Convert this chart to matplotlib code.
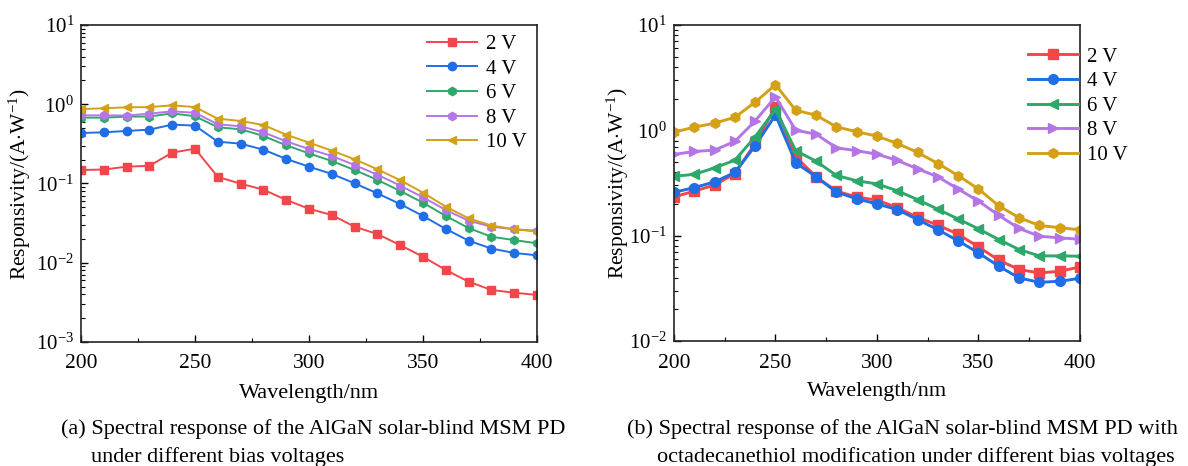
#!/usr/bin/env python3
"""Spectral response of AlGaN solar-blind MSM PD, with/without octadecanethiol."""

import matplotlib

matplotlib.use("Agg")
import matplotlib.pyplot as plt  # noqa: E402
from matplotlib.ticker import LogLocator, MultipleLocator, NullFormatter  # noqa: E402

plt.rcParams["font.family"] = ["Liberation Serif", "DejaVu Serif"]
plt.rcParams["mathtext.fontset"] = "custom"
plt.rcParams["mathtext.rm"] = "Liberation Serif"
plt.rcParams["mathtext.it"] = "Liberation Serif:italic"

wavelength = [200, 210, 220, 230, 240, 250, 260, 270, 280, 290, 300,
              310, 320, 330, 340, 350, 360, 370, 380, 390, 400]
labels = ["2 V", "4 V", "6 V", "8 V", "10 V"]

# (a) bare device
a_2v = [0.148, 0.150, 0.163, 0.167, 0.245, 0.275, 0.121, 0.0995, 0.0836, 0.062, 0.048,
        0.040, 0.0285, 0.023, 0.0167, 0.0119, 0.0081, 0.00577, 0.00453, 0.00419, 0.00392]
a_4v = [0.434, 0.442, 0.460, 0.478, 0.553, 0.537, 0.337, 0.318, 0.267, 0.204, 0.163,
        0.132, 0.1005, 0.075, 0.055, 0.0389, 0.0267, 0.019, 0.0151, 0.0133, 0.0124]
a_6v = [0.677, 0.677, 0.697, 0.700, 0.767, 0.705, 0.512, 0.483, 0.398, 0.303, 0.240,
        0.192, 0.148, 0.111, 0.0804, 0.0573, 0.0389, 0.0274, 0.0213, 0.0193, 0.0176]
a_8v = [0.724, 0.724, 0.720, 0.760, 0.814, 0.780, 0.558, 0.527, 0.442, 0.340, 0.272,
        0.222, 0.171, 0.129, 0.094, 0.0669, 0.0463, 0.0339, 0.0285, 0.0264, 0.0254]
a_10v = [0.871, 0.888, 0.915, 0.920, 0.969, 0.920, 0.658, 0.615, 0.547, 0.413, 0.328,
         0.260, 0.202, 0.151, 0.110, 0.0766, 0.051, 0.0363, 0.0294, 0.0266, 0.0246]

# (b) octadecanethiol modified
b_2v = [0.233, 0.265, 0.302, 0.389, 0.751, 1.67, 0.561, 0.362, 0.265, 0.233, 0.217,
        0.185, 0.149, 0.126, 0.103, 0.0783, 0.0585, 0.0477, 0.0443, 0.0459, 0.0505]
b_4v = [0.258, 0.286, 0.324, 0.398, 0.713, 1.40, 0.492, 0.362, 0.259, 0.224, 0.200,
        0.177, 0.142, 0.114, 0.0892, 0.0686, 0.0513, 0.0397, 0.0361, 0.0369, 0.0394]
b_6v = [0.366, 0.382, 0.440, 0.521, 0.869, 1.58, 0.640, 0.510, 0.373, 0.332, 0.310,
        0.267, 0.220, 0.178, 0.144, 0.116, 0.0918, 0.0738, 0.0643, 0.0643, 0.0638]
b_8v = [0.590, 0.630, 0.649, 0.785, 1.23, 2.08, 1.00, 0.920, 0.683, 0.640, 0.594,
        0.518, 0.431, 0.362, 0.277, 0.213, 0.156, 0.117, 0.0988, 0.0953, 0.0925]
b_10v = [0.962, 1.07, 1.17, 1.33, 1.85, 2.71, 1.55, 1.39, 1.08, 0.969, 0.881,
         0.751, 0.617, 0.484, 0.372, 0.277, 0.192, 0.148, 0.125, 0.119, 0.1135]

COLORS = ["#f2464a", "#1f6ee6", "#2ea86a", "#b476e6", "#d4a017"]
MARKERS_A = ["s", "o", "h", "h", "<"]
MARKERS_B = ["s", "o", "<", ">", "h"]

captions_a = ["(a) Spectral response of the AlGaN solar-blind MSM PD",
              "under different bias voltages"]
captions_b = ["(b) Spectral response of the AlGaN solar-blind MSM PD with",
              "octadecanethiol modification under different bias voltages"]


def style_axes(ax, ylim, ylabel_x):
    ax.set_yscale("log")
    ax.set_xlim(200, 400)
    ax.set_ylim(*ylim)
    ax.xaxis.set_major_locator(MultipleLocator(50))
    ax.xaxis.set_minor_locator(MultipleLocator(25))
    ax.yaxis.set_major_locator(LogLocator(base=10))
    ax.yaxis.set_minor_locator(LogLocator(base=10, subs=range(2, 10)))
    ax.yaxis.set_minor_formatter(NullFormatter())
    ax.tick_params(which="both", direction="in", top=False, right=False)
    ax.tick_params(which="major", length=5, width=1)
    ax.tick_params(which="minor", length=3, width=0.8)
    ax.tick_params(axis="x", labelsize=15.5, pad=9)
    ax.tick_params(axis="y", labelsize=15, pad=5)
    for spine in ax.spines.values():
        spine.set_linewidth(1.2)
        spine.set_color("#222222")
    ax.set_xlabel("Wavelength/nm", fontsize=16)
    ax.xaxis.label.set_va("center")
    ax.xaxis.set_label_coords(0.5, -0.161)
    ax.set_ylabel(r"Responsivity/(A$\cdot$W$^{-1}$)", fontsize=15.5)
    ax.yaxis.label.set_va("center")
    ax.yaxis.set_label_coords(ylabel_x, 0.5)


fig = plt.figure(figsize=(11.88, 4.66), dpi=100)
ax_a = fig.add_axes([0.0682, 0.2661, 0.3838, 0.6803])
ax_b = fig.add_axes([0.5673, 0.2682, 0.3418, 0.6782])

for series, lab, col, mk in zip([a_2v, a_4v, a_6v, a_8v, a_10v], labels, COLORS, MARKERS_A):
    ax_a.plot(wavelength, series, color=col, marker=mk, markersize=6, linewidth=1.4,
              label=lab)
for series, lab, col, mk in zip([b_2v, b_4v, b_6v, b_8v, b_10v], labels, COLORS, MARKERS_B):
    ax_b.plot(wavelength, series, color=col, marker=mk, markersize=7, linewidth=2.1,
              label=lab)

style_axes(ax_a, (1e-3, 10), -0.134)
style_axes(ax_b, (1e-2, 10), -0.138)

for ax, loc in [(ax_a, (0.759, 0.97)), (ax_b, (0.872, 0.93))]:
    ax.legend(loc="upper left", bbox_to_anchor=loc, frameon=False, fontsize=15,
              handlelength=2.4, labelspacing=0.24, borderpad=0, borderaxespad=0,
              handletextpad=0.45)

fig.text(61 / 1188, 1 - 429 / 466, captions_a[0], fontsize=16, va="center", ha="left")
fig.text(91 / 1188, 1 - 457 / 466, captions_a[1], fontsize=16, va="center", ha="left")
fig.text(627 / 1188, 1 - 429 / 466, captions_b[0], fontsize=16, va="center", ha="left")
fig.text(657 / 1188, 1 - 457 / 466, captions_b[1], fontsize=16, va="center", ha="left")

fig.savefig("out.png", dpi=100)
